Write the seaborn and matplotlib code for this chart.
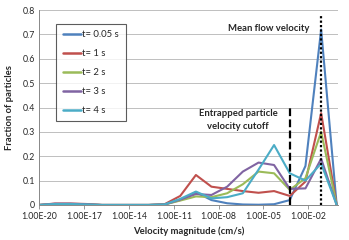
import numpy as np
import pandas as pd
import matplotlib
matplotlib.use("Agg")
import matplotlib.pyplot as plt
import seaborn as sns

# log10 of velocity bin (cm/s)
log_velocity = [-20.0, -18.95, -17.9, -16.86, -15.81, -14.76, -13.71, -12.67, -11.62, -10.57,
                -9.52, -8.48, -7.43, -6.38, -5.33, -4.29, -3.24, -2.19, -1.14, -0.1]
series_names = ["t= 0.05 s", "t= 1 s", "t= 2 s", "t= 3 s", "t= 4 s"]
t005 = [0, 0.002, 0.002, 0.001, 0, 0, 0, 0, 0.002, 0.02, 0.052, 0.02, 0.007, 0.002, 0.001, 0.003, 0.02, 0.16, 0.72, 0]
t1 = [0, 0.006, 0.006, 0.004, 0, 0, 0, 0, 0.003, 0.037, 0.123, 0.075, 0.066, 0.057, 0.05, 0.057, 0.037, 0.096, 0.377, 0]
t2 = [0, 0.003, 0.003, 0.002, 0, 0, 0, 0, 0.002, 0.018, 0.035, 0.032, 0.048, 0.085, 0.137, 0.13, 0.062, 0.11, 0.30, 0]
t3 = [0, 0.005, 0.005, 0.003, 0, 0, 0, 0, 0.002, 0.022, 0.045, 0.041, 0.075, 0.137, 0.174, 0.164, 0.066, 0.068, 0.19, 0]
t4 = [0, 0.004, 0.004, 0.002, 0, 0, 0, 0, 0.002, 0.025, 0.055, 0.027, 0.032, 0.048, 0.145, 0.246, 0.13, 0.10, 0.17, 0]
colors = ["#4F81BD", "#C0504D", "#9BBB59", "#8064A2", "#4BACC6"]
xtick_exps = [-20, -17, -14, -11, -8, -5, -2]
xtick_labels = ["1.00E-20", "1.00E-17", "1.00E-14", "1.00E-11", "1.00E-08", "1.00E-05", "1.00E-02"]
yticks = [0, 0.1, 0.2, 0.3, 0.4, 0.5, 0.6, 0.7, 0.8]
ytick_labels = ["0", "0.1", "0.2", "0.3", "0.4", "0.5", "0.6", "0.7", "0.8"]
cutoff_exp = -3.24
mean_exp = -1.14

sns.set_theme(style="white")
plt.rcParams['font.family'] = ['Lato', 'DejaVu Sans']

rows = []
for name, vals in zip(series_names, [t005, t1, t2, t3, t4]):
    for lx, v in zip(log_velocity, vals):
        rows.append({"v": 10 ** lx, "frac": v, "series": name})
df = pd.DataFrame(rows)

fig = plt.figure(figsize=(3.49, 2.40), dpi=100)
ax = fig.add_axes([0.1126, 0.146, 0.8564, 0.812])

sns.lineplot(data=df, x="v", y="frac", hue="series", palette=colors,
             linewidth=1.5, ax=ax, legend=True, sort=False)
ax.set_xscale("log")
ax.set_xlim(1e-20, 1e0)
ax.set_ylim(0, 0.8)

ax.set_xticks([10.0 ** e for e in xtick_exps])
ax.set_xticklabels(xtick_labels, fontsize=6.3)
ax.xaxis.set_minor_locator(matplotlib.ticker.NullLocator())
ax.set_yticks(yticks)
ax.set_yticklabels(ytick_labels, fontsize=6.3)
ax.tick_params(axis="x", length=3, width=0.6, color="#888888", pad=2, direction="out", bottom=True)
ax.tick_params(axis="y", length=0, pad=3)
ax.grid(axis="y", color="#BFBFBF", linewidth=0.7)
ax.grid(axis="x", visible=False)
for s in ["top", "right"]:
    ax.spines[s].set_visible(False)
ax.spines["left"].set_color("#888888")
ax.spines["bottom"].set_color("#888888")
ax.spines["left"].set_linewidth(0.7)
ax.spines["bottom"].set_linewidth(0.7)

ax.set_xlabel("Velocity magnitude (cm/s)", fontsize=6.8, fontweight="bold", labelpad=4)
ax.set_ylabel("Fraction of particles", fontsize=6.8, fontweight="bold", labelpad=6)

ax.vlines(10 ** cutoff_exp, 0, 0.41, colors="black", linestyles=(0, (3.5, 1.5)), linewidth=1.6)
ax.vlines(10 ** mean_exp, 0, 0.78, colors="black", linestyles=(0, (1, 1)), linewidth=1.6)

ax.text(10 ** -1.95, 0.725, "Mean flow velocity", fontsize=6.8, fontweight="bold",
        ha="right", va="center")
ax.text(10 ** -6.7, 0.349, "Entrapped particle\nvelocity cutoff", fontsize=6.8,
        fontweight="bold", ha="center", va="center", linespacing=1.5)

leg = ax.legend(loc="upper left", bbox_to_anchor=(0.04, 0.955), fontsize=6.8,
                frameon=True, fancybox=False, handlelength=1.9, handletextpad=0.2,
                labelspacing=1.05, borderpad=0.7, title=None)
leg.get_frame().set_edgecolor("#333333")
leg.get_frame().set_linewidth(0.8)
for line in leg.get_lines():
    line.set_linewidth(1.8)

fig.savefig("out.png", dpi=100)
